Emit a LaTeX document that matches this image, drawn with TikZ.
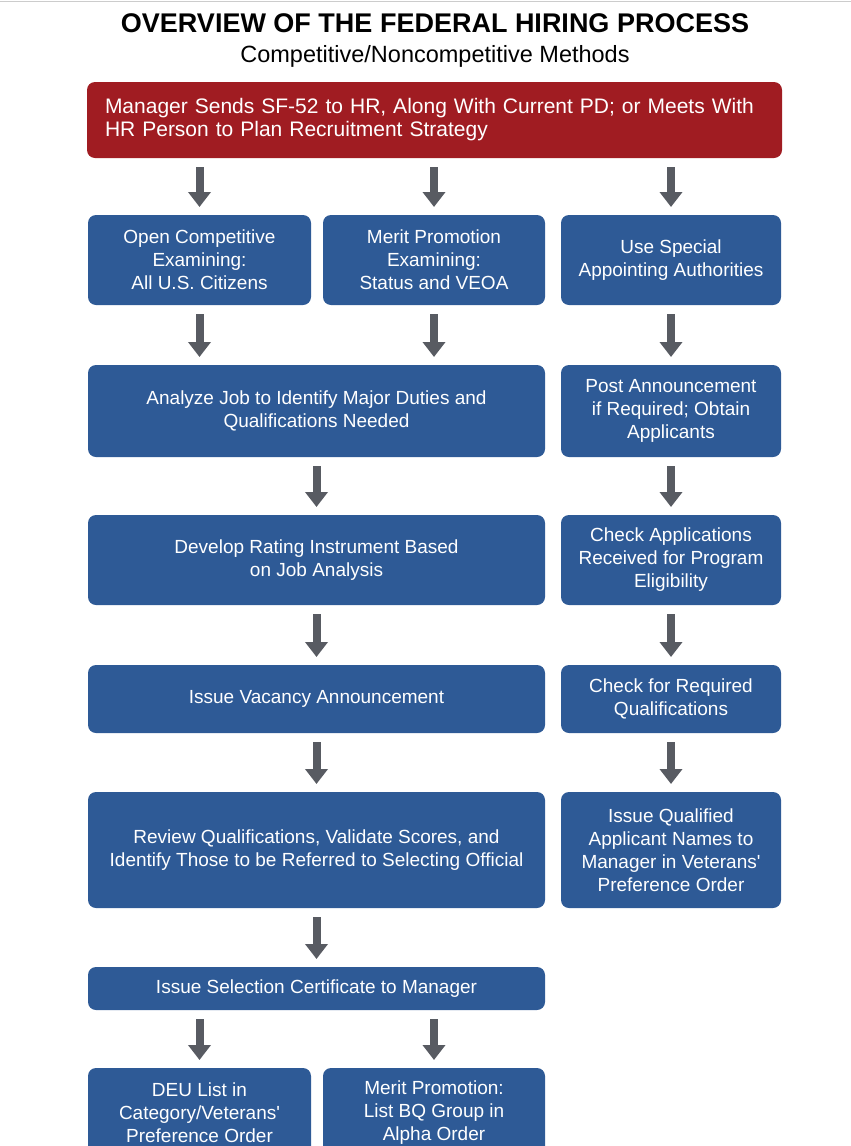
\documentclass[tikz,border=0pt]{standalone}
\usepackage{fontspec}
\setmainfont{Liberation Sans}
\usetikzlibrary{positioning, arrows.meta}
\definecolor{hrred}{RGB}{160,28,34}
\definecolor{hrblue}{RGB}{46,90,150}
\definecolor{hrgray}{RGB}{88,91,98}
\def\titlefont{\fontsize{27}{30}\bfseries\selectfont}
\def\subfont{\fontsize{23.5}{26}\selectfont}
\def\boxfont{\fontsize{19}{23}\selectfont}
\tikzstyle{redbox} = [rectangle, rounded corners=8pt, fill=hrred, text=white, font=\fontsize{21}{23}\selectfont, align=left, text width=659pt, inner xsep=18pt, minimum height=76pt, outer sep=0pt]
\tikzstyle{bluebox} = [rectangle, rounded corners=8pt, fill=hrblue, text=white, font=\boxfont, align=center, inner sep=2pt, outer sep=0pt]
\tikzstyle{widebox} = [bluebox, minimum width=457pt]
\tikzstyle{narrowbox} = [bluebox, minimum width=220pt]
\tikzstyle{aro} = [-{Triangle[width=22pt,length=15pt]}, line width=8pt, draw=hrgray, shorten <=9pt, shorten >=8pt]

\begin{document}
\begin{tikzpicture}[x=1pt, y=1pt]
  \useasboundingbox (0,0) rectangle (851,-1146);
  \clip (0,0) rectangle (851,-1146);
  \draw [black!20, line width=1.2pt] (0,-1.5) -- (851,-1.5);

  \node (title) [anchor=base, font=\titlefont] at (435,-32) {OVERVIEW OF THE FEDERAL HIRING PROCESS};
  \node (subtitle) [anchor=base, font=\subfont] at (435,-62) {Competitive/Noncompetitive Methods};

  \node (manager) [redbox, anchor=north west] at (87,-82)
  {Manager Sends SF-52 to HR, Along With Current PD; or Meets With\\HR Person to Plan Recruitment Strategy};

  % three ways in
  \node (open) [bluebox, minimum width=223pt, minimum height=90pt, below=57pt of manager.south west, anchor=north west, xshift=1pt] {Open Competitive\\Examining:\\All U.S. Citizens};
  \node (merit) [bluebox, minimum width=222pt, minimum height=90pt, right=12pt of open] {Merit Promotion\\Examining:\\Status and VEOA};
  \node (special) [narrowbox, minimum height=90pt, right=16pt of merit] {Use Special\\Appointing Authorities};

  \draw [aro] (manager.south -| open.north) -- (open.north);
  \draw [aro] (manager.south -| merit.north) -- (merit.north);
  \draw [aro] (manager.south -| special.north) -- (special.north);

  % competitive column
  \node (analyze) [widebox, minimum height=92pt, below=60pt of open.south west, anchor=north west] {Analyze Job to Identify Major Duties and\\Qualifications Needed};
  \node (develop) [widebox, minimum height=90pt, below=58pt of analyze.south west, anchor=north west] {Develop Rating Instrument Based\\on Job Analysis};
  \node (vacancy) [widebox, minimum height=68pt, below=60pt of develop.south west, anchor=north west] {Issue Vacancy Announcement};
  \node (review) [widebox, minimum height=116pt, below=59pt of vacancy.south west, anchor=north west] {Review Qualifications, Validate Scores, and\\Identify Those to be Referred to Selecting Official};
  \node (certificate) [widebox, minimum height=43pt, below=59pt of review.south west, anchor=north west] {Issue Selection Certificate to Manager};
  \node (deu) [bluebox, minimum width=223pt, minimum height=90pt, below=58pt of certificate.south west, anchor=north west] {DEU List in\\Category/Veterans\textquotesingle\\Preference Order};
  \node (bqlist) [bluebox, minimum width=222pt, minimum height=90pt, right=12pt of deu] {Merit Promotion:\\List BQ Group in\\Alpha Order};

  \draw [aro] (open.south) -- (open.south |- analyze.north);
  \draw [aro] (merit.south) -- (merit.south |- analyze.north);
  \draw [aro] (analyze) -- (develop);
  \draw [aro] (develop) -- (vacancy);
  \draw [aro] (vacancy) -- (review);
  \draw [aro] (review) -- (certificate);
  \draw [aro] (certificate.south -| deu.north) -- (deu.north);
  \draw [aro] (certificate.south -| bqlist.north) -- (bqlist.north);

  % special authorities column
  \node (post) [narrowbox, minimum height=92pt, below=60pt of special.south west, anchor=north west] {Post Announcement\\if Required; Obtain\\Applicants};
  \node (checkapp) [narrowbox, minimum height=90pt, below=58pt of post.south west, anchor=north west] {Check Applications\\Received for Program\\Eligibility};
  \node (checkreq) [narrowbox, minimum height=68pt, below=60pt of checkapp.south west, anchor=north west] {Check for Required\\Qualifications};
  \node (names) [narrowbox, minimum height=116pt, below=59pt of checkreq.south west, anchor=north west] {Issue Qualified\\Applicant Names to\\Manager in Veterans\textquotesingle\\Preference Order};

  \draw [aro] (special) -- (post);
  \draw [aro] (post) -- (checkapp);
  \draw [aro] (checkapp) -- (checkreq);
  \draw [aro] (checkreq) -- (names);

\end{tikzpicture}
\end{document}
